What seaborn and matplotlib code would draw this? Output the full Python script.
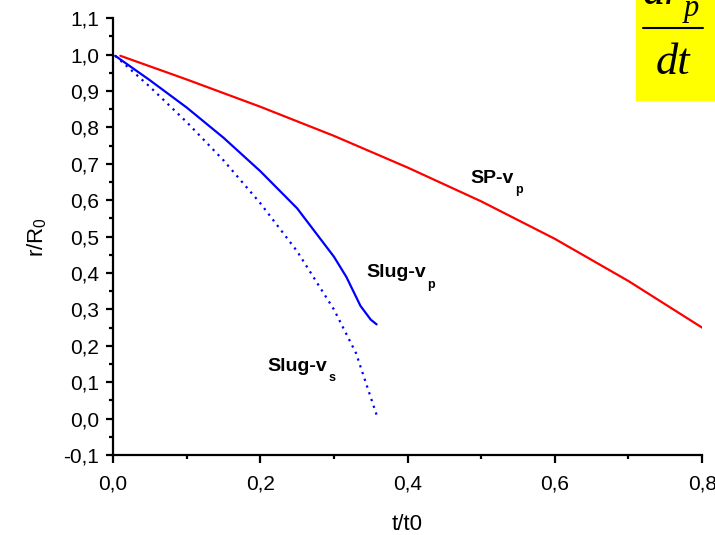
import matplotlib
matplotlib.use("Agg")
import matplotlib.pyplot as plt
import seaborn as sns
import pandas as pd
from matplotlib.ticker import MultipleLocator, FuncFormatter

# curves (t/t0, r/R0)
sp_t = [0.010, 0.100, 0.200, 0.300, 0.400, 0.500, 0.600, 0.700, 0.800]
sp_r = [0.997, 0.932, 0.857, 0.777, 0.690, 0.597, 0.494, 0.378, 0.250]

slug_p_t = [0.003, 0.050, 0.100, 0.150, 0.200, 0.250, 0.300, 0.317, 0.336, 0.350, 0.358]
slug_p_r = [0.997, 0.930, 0.855, 0.772, 0.680, 0.578, 0.445, 0.389, 0.310, 0.272, 0.259]

slug_s_t = [0.003, 0.050, 0.100, 0.150, 0.200, 0.250, 0.300, 0.330, 0.358]
slug_s_r = [0.997, 0.912, 0.815, 0.710, 0.592, 0.460, 0.300, 0.180, 0.010]

sns.set_style("ticks")
plt.rcParams['font.family'] = ['Liberation Sans', 'DejaVu Sans']
plt.rcParams['mathtext.fontset'] = 'custom'
plt.rcParams['mathtext.rm'] = 'Liberation Sans'
plt.rcParams['text.color'] = 'black'
plt.rcParams['axes.labelcolor'] = 'black'

fig = plt.figure(figsize=(7.15, 5.35), dpi=100)
ax = fig.add_axes([0.158, 0.1495, 0.824, 0.8163])

sp = pd.DataFrame({"t": sp_t, "r": sp_r})
sp_slug = pd.DataFrame({"t": slug_p_t, "r": slug_p_r})
ss_slug = pd.DataFrame({"t": slug_s_t, "r": slug_s_r})

sns.lineplot(data=sp, x="t", y="r", sort=False, color="#ff0000", lw=1.6, ax=ax)
sns.lineplot(data=sp_slug, x="t", y="r", sort=False, color="#0000ff", lw=1.6, ax=ax)
sns.lineplot(data=ss_slug, x="t", y="r", sort=False, color="#0000ff", lw=1.6,
             linestyle=(0, (1, 2.2)), ax=ax)

ax.set_xlim(0, 0.8)
ax.set_ylim(-0.1, 1.1)
ax.xaxis.set_major_locator(MultipleLocator(0.2))
ax.xaxis.set_minor_locator(MultipleLocator(0.1))
ax.yaxis.set_major_locator(MultipleLocator(0.1))
ax.yaxis.set_minor_locator(MultipleLocator(0.05))
comma = FuncFormatter(lambda v, p: ("%.1f" % v).replace(".", ",").replace("-0,0", "0,0"))
ax.xaxis.set_major_formatter(comma)
ax.yaxis.set_major_formatter(comma)

sns.despine(ax=ax)
for s in ["left", "bottom"]:
    ax.spines[s].set_linewidth(1.6)
    ax.spines[s].set_color("black")
ax.tick_params(which="major", direction="out", width=1.6, labelsize=15, colors="black")
ax.tick_params(which="minor", direction="out", length=3, width=1.6, colors="black")
ax.tick_params(axis="x", which="major", length=6, pad=8)
ax.tick_params(axis="y", which="major", length=5, pad=5)

ax.set_xlabel("t/t0", fontsize=16, labelpad=15)
ax.set_ylabel(r"r/R$_\mathregular{0}$", fontsize=16, labelpad=10)


def label(t, r, main, sub):
    txt = ax.text(t, r, main, fontsize=14, fontweight="bold")
    ax.annotate(sub, xy=(1, 0), xycoords=txt, xytext=(1, 2), textcoords="offset points",
                fontsize=9, fontweight="bold", va="top")


label(0.485, 0.647, "SP-v", "p")
label(0.344, 0.388, "Slug-v", "p")
label(0.209, 0.132, "Slug-v", "s")

# yellow formula box in the top right corner
fig.patches.append(plt.Rectangle((636 / 715, 1 - 100 / 535), 79 / 715, 100 / 535,
                                 transform=fig.transFigure, color="#ffff00", zorder=0))
serif = dict(family="Liberation Serif", style="italic", va="baseline")
fig.text(682 / 715, 1 - 4 / 535, "dr", fontsize=32, ha="right", **serif)
fig.text(684 / 715, 1 - 16 / 535, "p", fontsize=22, ha="left", **serif)
fig.add_artist(plt.Line2D([643 / 715, 703 / 715], [1 - 28 / 535, 1 - 28 / 535],
                          transform=fig.transFigure, color="black", lw=1.5))
fig.text(673 / 715, 1 - 74 / 535, "dt", fontsize=32, ha="center", **serif)

fig.savefig("out.png", dpi=100)
